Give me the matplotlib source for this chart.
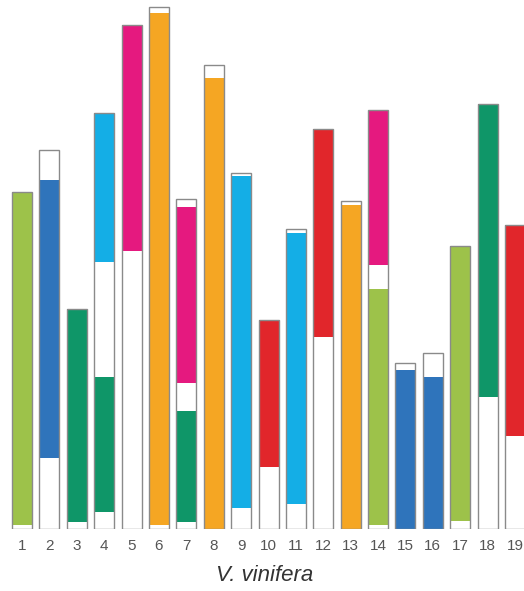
import matplotlib.pyplot as plt
from matplotlib.patches import Rectangle

plt.rcParams['font.family'] = ['Liberation Sans', 'DejaVu Sans']

# V. vinifera chromosomes, segments from the bottom: (start, end, colour) in Mb
LIME = '#9dc24a'
BLUE = '#2f74bb'
TEAL = '#0f9668'
CYAN = '#14aee6'
MAGENTA = '#e5197f'
ORANGE = '#f5a623'
RED = '#e1262b'
WHITE = 'white'

chromosomes = [str(i) for i in range(1, 20)]

segments = [
    [(0, 0.3, WHITE), (0.3, 23.0, LIME)],
    [(0, 4.85, WHITE), (4.85, 23.8, BLUE), (23.8, 25.9, WHITE)],
    [(0, 0.48, WHITE), (0.48, 15.0, TEAL)],
    [(0, 1.16, WHITE), (1.16, 10.4, TEAL), (10.4, 18.2, WHITE), (18.2, 28.4, CYAN)],
    [(0, 19.0, WHITE), (19.0, 34.4, MAGENTA)],
    [(0, 0.3, WHITE), (0.3, 35.2, ORANGE), (35.2, 35.6, WHITE)],
    [(0, 0.48, WHITE), (0.48, 8.05, TEAL), (8.05, 9.97, WHITE), (9.97, 22.0, MAGENTA), (22.0, 22.5, WHITE)],
    [(0, 30.8, ORANGE), (30.8, 31.7, WHITE)],
    [(0, 1.43, WHITE), (1.43, 24.1, CYAN), (24.1, 24.3, WHITE)],
    [(0, 4.23, WHITE), (4.23, 14.3, RED)],
    [(0, 1.7, WHITE), (1.7, 20.2, CYAN), (20.2, 20.5, WHITE)],
    [(0, 13.1, WHITE), (13.1, 27.3, RED)],
    [(0, 22.1, ORANGE), (22.1, 22.4, WHITE)],
    [(0, 0.27, WHITE), (0.27, 16.4, LIME), (16.4, 18.0, WHITE), (18.0, 28.5, MAGENTA), (28.5, 28.6, WHITE)],
    [(0, 10.85, BLUE), (10.85, 11.3, WHITE)],
    [(0, 10.4, BLUE), (10.4, 12.0, WHITE)],
    [(0, 0.55, WHITE), (0.55, 19.3, LIME)],
    [(0, 9.0, WHITE), (9.0, 29.0, TEAL)],
    [(0, 6.35, WHITE), (6.35, 20.75, RED)],
]

W, H, DPI = 524, 591, 100
fig = plt.figure(figsize=(W / DPI, H / DPI), dpi=DPI)
ax = fig.add_axes([0, 62 / H, 1, 529 / H])

step = 27.39
x0 = 1 - 22 / step
ax.set_xlim(x0, x0 + W / step)
ax.set_ylim(0, 529 / 14.65)

width = 20 / step
for i, segs in enumerate(segments):
    x = i + 1
    for start, end, color in segs:
        ax.add_patch(Rectangle((x - width / 2, start), width, end - start,
                               facecolor=color, edgecolor='none', zorder=2))
    top = segs[-1][1]
    ax.add_patch(Rectangle((x - width / 2, 0), width, top, facecolor='none',
                           edgecolor='#8a8a8a', lw=1.0, zorder=3))

ax.set_xticks(range(1, 20))
ax.set_xticklabels(chromosomes, fontsize=11, color='#555555')
ax.tick_params(axis='x', length=0, pad=7)
ax.set_yticks([])
for s in ax.spines.values():
    s.set_visible(False)
ax.set_xlabel('V. vinifera', fontsize=16, style='italic', color='#333333')
ax.xaxis.set_label_coords(265 / W, -36 / 529)

fig.savefig('out.png', dpi=DPI)
